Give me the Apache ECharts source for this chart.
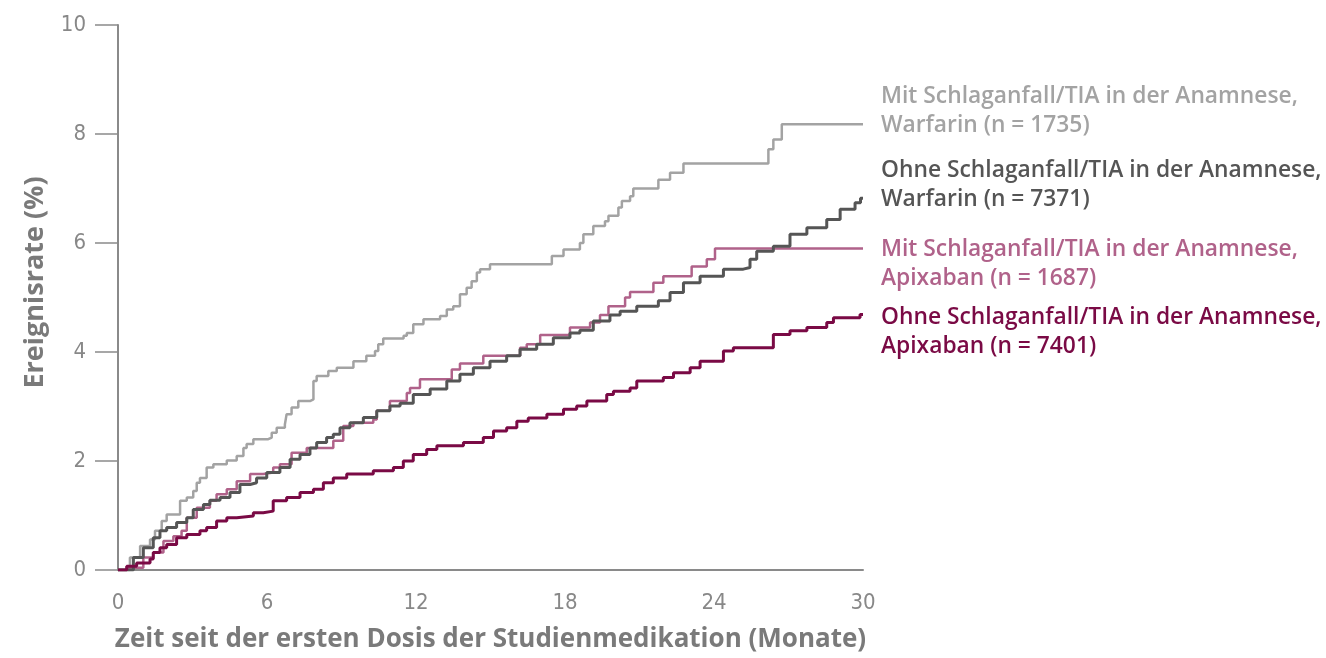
<!DOCTYPE html>
<html>
<head>
<meta charset="utf-8">
<script src="https://cdn.jsdelivr.net/npm/echarts@6/dist/echarts.min.js"></script>
<style>
  html, body { margin: 0; padding: 0; background: #fff; }
  #chart { width: 1326px; height: 658px; }
</style>
</head>
<body>
<div id="chart"></div>
<script>
const mitWarfarin = [[0,0],[0.48,0.23],[0.89,0.44],[1.29,0.56],[1.49,0.72],[1.76,0.9],[1.96,1.02],[2.5,1.27],[2.77,1.33],[3.03,1.45],[3.17,1.6],[3.3,1.69],[3.57,1.88],[3.84,1.94],[4.38,2.01],[4.78,2.09],[5.05,2.24],[5.18,2.31],[5.45,2.4],[6.05,2.43],[6.19,2.52],[6.39,2.61],[6.72,2.67],[6.79,2.86],[6.99,2.98],[7.26,3.1],[7.73,3.13],[7.87,3.47],[8.0,3.56],[8.47,3.65],[8.81,3.71],[9.48,3.83],[10.0,3.93],[10.35,4.02],[10.48,4.14],[10.68,4.25],[11.5,4.3],[11.63,4.35],[11.89,4.51],[12.3,4.6],[12.97,4.66],[13.24,4.78],[13.5,4.84],[13.77,5.06],[14.04,5.18],[14.24,5.3],[14.45,5.46],[14.58,5.52],[14.98,5.61],[17.47,5.76],[17.94,5.88],[18.6,6.0],[18.74,6.16],[19.14,6.31],[19.61,6.4],[19.75,6.5],[20.15,6.65],[20.29,6.77],[20.62,6.86],[20.75,7.0],[21.76,7.16],[22.23,7.29],[22.77,7.46],[26.19,7.72],[26.39,7.9],[26.73,8.18],[30,8.18]];
const ohneWarfarin = [[0,0],[0.62,0.23],[1.02,0.41],[1.42,0.59],[1.69,0.72],[1.96,0.78],[2.36,0.87],[2.77,0.96],[3.03,1.11],[3.44,1.2],[3.7,1.28],[4.11,1.33],[4.51,1.42],[4.91,1.57],[5.32,1.6],[5.58,1.69],[5.99,1.79],[6.52,1.88],[6.93,2.03],[7.33,2.12],[7.73,2.24],[8.0,2.34],[8.4,2.43],[8.67,2.49],[8.94,2.61],[9.34,2.7],[9.88,2.8],[10.42,2.92],[10.95,3.01],[11.36,3.06],[11.89,3.22],[12.57,3.32],[13.24,3.47],[13.77,3.59],[14.31,3.71],[14.98,3.83],[15.65,3.93],[16.19,4.05],[16.86,4.14],[17.53,4.26],[18.2,4.35],[18.6,4.4],[19.14,4.57],[19.81,4.68],[20.22,4.75],[20.89,4.84],[21.76,4.94],[22.23,5.09],[22.77,5.27],[23.44,5.39],[24.38,5.52],[25.18,5.55],[25.45,5.7],[25.72,5.85],[26.39,5.94],[27.06,6.16],[27.74,6.28],[28.54,6.43],[29.08,6.62],[29.68,6.74],[29.9,6.82],[30,6.82]];
const mitApixaban = [[0,0],[0.35,0.04],[1.02,0.23],[1.42,0.32],[1.83,0.53],[2.23,0.62],[2.56,0.72],[2.77,0.96],[3.17,1.14],[3.7,1.27],[3.97,1.39],[4.38,1.48],[4.78,1.63],[5.32,1.76],[5.85,1.79],[6.25,1.88],[6.52,1.94],[6.99,2.15],[7.6,2.24],[8.67,2.37],[9.07,2.64],[9.48,2.7],[10.28,2.76],[10.42,2.92],[10.95,3.1],[11.63,3.25],[11.76,3.34],[12.16,3.5],[13.44,3.68],[13.77,3.79],[14.71,3.93],[16.19,4.08],[16.46,4.14],[17.0,4.31],[18.2,4.45],[19.01,4.54],[19.41,4.68],[19.75,4.84],[20.42,5.0],[20.62,5.1],[21.56,5.27],[21.96,5.39],[23.1,5.57],[23.71,5.7],[24.04,5.9],[30,5.9]];
const ohneApixaban = [[0,0],[0.35,0.07],[0.75,0.13],[1.29,0.2],[1.42,0.32],[1.69,0.41],[1.96,0.47],[2.36,0.59],[2.77,0.65],[3.3,0.72],[3.57,0.78],[3.97,0.9],[4.38,0.96],[4.78,0.99],[5.45,1.05],[5.85,1.08],[6.25,1.27],[6.79,1.33],[7.33,1.42],[7.87,1.48],[8.27,1.6],[8.67,1.69],[9.21,1.76],[10.28,1.82],[11.09,1.88],[11.49,2.0],[11.89,2.12],[12.43,2.21],[12.84,2.28],[13.91,2.34],[14.71,2.43],[15.12,2.55],[15.65,2.61],[16.06,2.73],[16.52,2.79],[17.27,2.86],[17.94,2.95],[18.47,3.01],[18.88,3.1],[19.68,3.22],[19.95,3.28],[20.62,3.34],[20.89,3.47],[21.96,3.53],[22.37,3.62],[23.04,3.71],[23.44,3.83],[24.38,4.02],[24.78,4.08],[26.39,4.32],[27.06,4.39],[27.74,4.45],[28.54,4.54],[28.81,4.63],[29.88,4.69],[30,4.7]];

const seriesLabels = [
    'Mit Schlaganfall/TIA in der Anamnese,\nWarfarin (n = 1735)',
    'Ohne Schlaganfall/TIA in der Anamnese,\nWarfarin (n = 7371)',
    'Mit Schlaganfall/TIA in der Anamnese,\nApixaban (n = 1687)',
    'Ohne Schlaganfall/TIA in der Anamnese,\nApixaban (n = 7401)'
];
const xTicks = [0, 6, 12, 18, 24, 30];
const yTicks = [0, 2, 4, 6, 8, 10];

const axisGray = '#8a8a8a';
const labelFont = '"Open Sans", "Noto Sans", sans-serif';
const tickFont = '"Liberation Sans Narrow", "DejaVu Sans Condensed", sans-serif';

function stepSeries(name, data, color, width, labelOffset, z) {
    return {
        name: name,
        type: 'line',
        step: 'end',
        data: data,
        z: z,
        showSymbol: false,
        symbol: 'none',
        animation: false,
        lineStyle: { color: color, width: width },
        endLabel: {
            show: true,
            formatter: name,
            color: color,
            fontFamily: labelFont,
            fontWeight: 600,
            fontSize: 22.8,
            lineHeight: 29,
            distance: 18,
            offset: [0, labelOffset]
        }
    };
}

const chart = echarts.init(document.getElementById('chart'));
const option = {
    backgroundColor: '#fff',
    animation: false,
    grid: { left: 118, right: 463, top: 25, bottom: 88 },
    xAxis: {
        type: 'value',
        min: xTicks[0],
        max: xTicks[xTicks.length - 1],
        interval: 6,
        name: 'Zeit seit der ersten Dosis der Studienmedikation (Monate)',
        nameLocation: 'middle',
        nameGap: 57,
        nameTextStyle: {
            color: '#7a7a7a',
            fontFamily: labelFont,
            fontWeight: 'bold',
            fontSize: 26
        },
        axisLine: { show: true, lineStyle: { color: axisGray, width: 2 } },
        axisTick: { show: false },
        splitLine: { show: false },
        axisLabel: {
            margin: 22,
            color: '#888',
            fontFamily: tickFont,
            fontSize: 22
        }
    },
    yAxis: {
        type: 'value',
        min: yTicks[0],
        max: yTicks[yTicks.length - 1],
        interval: 2,
        name: 'Ereignisrate (%)',
        nameLocation: 'middle',
        nameGap: 69,
        nameTextStyle: {
            color: '#7a7a7a',
            fontFamily: labelFont,
            fontWeight: 'bold',
            fontSize: 27,
            padding: [0, 0, 0, 30]
        },
        axisLine: { show: true, lineStyle: { color: axisGray, width: 2 } },
        axisTick: { show: true, length: 23, lineStyle: { color: axisGray, width: 1.5 } },
        splitLine: { show: false },
        axisLabel: {
            margin: 32,
            color: '#888',
            fontFamily: tickFont,
            fontSize: 22
        }
    },
    series: [
        stepSeries(seriesLabels[0], mitWarfarin, '#a3a3a3', 2.5, -13, 2),
        stepSeries(seriesLabels[2], mitApixaban, '#b0628a', 2.5, 16, 3),
        stepSeries(seriesLabels[1], ohneWarfarin, '#555555', 3, -13, 4),
        stepSeries(seriesLabels[3], ohneApixaban, '#7a0a45', 3, 18, 5)
    ]
};
chart.setOption(option);
window.addEventListener('resize', () => chart.resize());
</script>
</body>
</html>
